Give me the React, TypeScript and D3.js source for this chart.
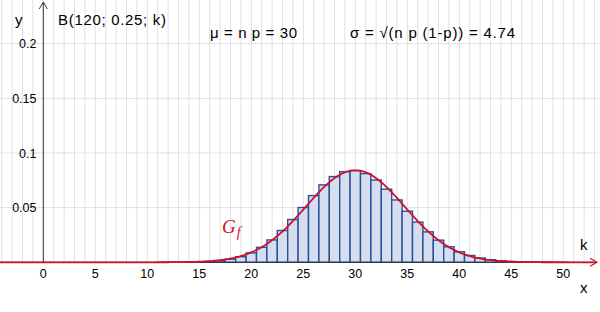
import React from "react";
import * as d3 from "d3";

const W = 600;
const H = 312;

// Binomial B(120; 0.25; k) bar heights
const kValues = [12, 13, 14, 15, 16, 17, 18, 19, 20, 21, 22, 23, 24, 25, 26, 27, 28, 29, 30, 31, 32, 33, 34, 35, 36, 37, 38, 39, 40, 41, 42, 43, 44, 45, 46, 47, 48, 49, 50];
const probabilities = [
  0.00002, 0.000056, 0.000142, 0.000335, 0.000734, 0.001496, 0.002854, 0.005107,
  0.008597, 0.01365, 0.02047, 0.02907, 0.03916, 0.05012, 0.06104, 0.07084,
  0.07843, 0.08294, 0.08386, 0.08115, 0.07524, 0.06688, 0.05704, 0.04672,
  0.03677, 0.02783, 0.02026, 0.0142, 0.009585, 0.006234, 0.003909, 0.002363,
  0.001379, 0.000776, 0.000422, 0.000221, 0.000112, 0.000055, 0.000026,
];

const xTicks = [0, 5, 10, 15, 20, 25, 30, 35, 40, 45, 50];
const yTicks = [0.05, 0.1, 0.15, 0.2];
const yTickLabels = ["0.05", "0.1", "0.15", "0.2"];

// Normal curve parameters shown in the chart
const MU = 30;
const SIGMA = 4.74;

const xScale = d3.scaleLinear().domain([0, 50]).range([43.3, 563.3]);
const yScale = d3.scaleLinear().domain([0, 0.05]).range([262.3, 207.65]);

export default function App() {
  const xMin = xScale.invert(0);
  const xMax = xScale.invert(W);
  const gridX = d3.range(Math.ceil(xMin), Math.floor(xMax) + 1);
  const gridY = d3.range(0.05, 0.26, 0.05);

  const pdf = (x: number) =>
    Math.exp(-((x - MU) ** 2) / (2 * SIGMA * SIGMA)) / (SIGMA * Math.sqrt(2 * Math.PI));
  const curvePts = d3.range(xMin, xScale.invert(594), 0.1).map((x) => [x, pdf(x)] as [number, number]);
  const line = d3
    .line<[number, number]>()
    .x((d) => xScale(d[0]))
    .y((d) => yScale(d[1]))
    .curve(d3.curveLinear);

  const y0 = yScale(0);
  const x0 = xScale(0);
  const font = "Liberation Sans, Arial, sans-serif";

  return (
    <svg width={W} height={H} style={{ position: "absolute", left: 0, top: 0, background: "#fff" }}>
      <rect x={0} y={0} width={W} height={H} fill="#fff" />
      {/* grid */}
      {gridX.map((g) => (
        <line key={"gx" + g} x1={xScale(g)} x2={xScale(g)} y1={0} y2={y0} stroke="#e0e0e0" strokeWidth={1} />
      ))}
      {gridY.map((g) => (
        <line key={"gy" + g} x1={0} x2={W} y1={yScale(g)} y2={yScale(g)} stroke="#e0e0e0" strokeWidth={1} />
      ))}
      {/* bars */}
      {kValues.map((k, i) => {
        const x1 = xScale(k - 0.5);
        const x2 = xScale(k + 0.5);
        const yt = yScale(probabilities[i]);
        return (
          <rect
            key={"b" + k}
            x={x1}
            y={yt}
            width={x2 - x1}
            height={y0 - yt}
            fill="#d5deee"
            stroke="#2a4f9a"
            strokeWidth={1.4}
          />
        );
      })}
      {/* axes */}
      <line x1={x0} x2={x0} y1={2} y2={y0} stroke="#333" strokeWidth={1} />
      <path d={`M${x0 - 4},${9} L${x0},${2} L${x0 + 4},${9}`} fill="none" stroke="#333" strokeWidth={1} />
      <line x1={0} x2={597} y1={y0} y2={y0} stroke="#333" strokeWidth={1} />
      {/* curve */}
      <path d={line(curvePts) || ""} fill="none" stroke="#d0102a" strokeWidth={1.8} />
      <path d={`M${590},${y0 - 4} L${597},${y0} L${590},${y0 + 4}`} fill="none" stroke="#d0102a" strokeWidth={1.2} />
      {/* ticks */}
      {xTicks.map((t) => (
        <text key={"xt" + t} x={xScale(t)} y={278} textAnchor="middle" fontFamily={font} fontSize={12.5} fill="#000">
          {t}
        </text>
      ))}
      {yTicks.map((t, i) => (
        <text key={"yt" + t} x={36.5} y={yScale(t) + 4.5} textAnchor="end" fontFamily={font} fontSize={12.5} fill="#000">
          {yTickLabels[i]}
        </text>
      ))}
      {/* labels */}
      <text x={15} y={25} fontFamily={font} fontSize={15} fill="#000">y</text>
      <text x={580} y={293} fontFamily={font} fontSize={15} fill="#000">x</text>
      <text x={580} y={250} fontFamily={font} fontSize={15} fill="#000">k</text>
      <text x={58} y={25} fontFamily={font} fontSize={15} fill="#000" textLength={108} lengthAdjust="spacing">B(120; 0.25; k)</text>
      <text x={210} y={38} fontFamily={font} fontSize={15} fill="#000" textLength={87} lengthAdjust="spacing">μ = n p = 30</text>
      <text x={350} y={38} fontFamily={font} fontSize={15} fill="#000" textLength={165} lengthAdjust="spacing">σ = √(n p (1-p)) = 4.74</text>
      <text x={222} y={233} fontFamily="Liberation Serif, Times New Roman, serif" fontStyle="italic" fontSize={19} fill="#d0102a">
        G
        <tspan dx={1} dy={4} fontSize={14}>f</tspan>
      </text>
    </svg>
  );
}
